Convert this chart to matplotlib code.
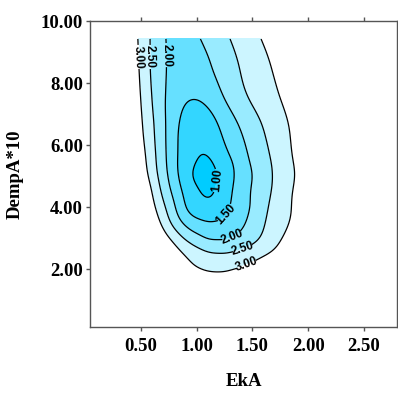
import numpy as np
import matplotlib
matplotlib.use("Agg")
import matplotlib.pyplot as plt
import matplotlib.tri as mtri

# Grid of EkA (x) and DempA*10 (y) values and the surface
eka = [0.3, 0.4, 0.5, 0.6, 0.7, 0.8, 0.9, 1.0, 1.1, 1.2, 1.3, 1.4, 1.5, 1.6, 1.7, 1.8, 1.9, 2.0, 2.1]
dempa = [1.5, 2.0, 2.5, 3.0, 3.5, 4.0, 4.5, 5.0, 5.5, 6.5, 7.5, 8.5, 9.42]
z_rows = [
    [5.2, 5.0, 4.8, 4.5, 4.2, 3.9, 3.65, 3.45, 3.35, 3.32, 3.35, 3.42, 3.55, 3.7, 3.88, 4.05, 4.25, 4.45, 4.65],
    [5.0, 4.8, 4.55, 4.25, 3.9, 3.55, 3.25, 3.04, 2.95, 2.93, 2.97, 3.05, 3.18, 3.35, 3.55, 3.75, 3.95, 4.15, 4.35],
    [4.9, 4.6, 4.3, 4.0, 3.6, 3.25, 2.95, 2.72, 2.57, 2.52, 2.55, 2.63, 2.76, 2.92, 3.1, 3.35, 3.6, 3.85, 4.05],
    [4.8, 4.4, 4.0, 3.67, 3.25, 2.83, 2.44, 2.17, 1.96, 1.93, 1.97, 2.15, 2.35, 2.58, 2.83, 3.08, 3.33, 3.58, 3.8],
    [4.7, 4.3, 3.9, 3.42, 2.86, 2.33, 1.88, 1.63, 1.52, 1.55, 1.67, 1.89, 2.17, 2.46, 2.70, 2.93, 3.16, 3.4, 3.63],
    [4.6, 4.2, 3.72, 3.17, 2.61, 2.06, 1.5, 1.24, 1.15, 1.24, 1.5, 1.78, 2.06, 2.38, 2.64, 2.88, 3.12, 3.36, 3.6],
    [4.5, 4.07, 3.58, 3.0, 2.39, 1.85, 1.38, 1.09, 0.9, 1.13, 1.44, 1.75, 2.05, 2.32, 2.58, 2.84, 3.11, 3.37, 3.63],
    [4.42, 3.94, 3.40, 2.80, 2.24, 1.68, 1.23, 0.88, 0.81, 1.03, 1.37, 1.69, 2.0, 2.28, 2.55, 2.8, 3.05, 3.3, 3.55],
    [4.34, 3.83, 3.28, 2.70, 2.17, 1.62, 1.27, 1.0, 0.93, 1.2, 1.45, 1.77, 2.08, 2.33, 2.59, 2.84, 3.09, 3.34, 3.59],
    [4.15, 3.63, 3.1, 2.6, 2.12, 1.64, 1.32, 1.2, 1.25, 1.47, 1.75, 2.02, 2.26, 2.5, 2.72, 2.93, 3.15, 3.37, 3.59],
    [4.02, 3.51, 3.0, 2.5, 2.08, 1.73, 1.54, 1.51, 1.62, 1.86, 2.14, 2.36, 2.57, 2.74, 2.91, 3.09, 3.26, 3.43, 3.6],
    [3.95, 3.44, 2.92, 2.43, 2.07, 1.85, 1.67, 1.72, 1.92, 2.13, 2.34, 2.53, 2.71, 2.88, 3.05, 3.22, 3.4, 3.57, 3.74],
    [3.84, 3.36, 2.88, 2.43, 2.07, 1.83, 1.76, 1.93, 2.12, 2.31, 2.5, 2.68, 2.86, 3.04, 3.22, 3.4, 3.58, 3.76, 3.94],
]
levels = [0.0, 1.0, 1.5, 2.0, 2.5, 3.0, 10.0]
band_colors = ["#00ccff", "#33d6ff", "#66e0ff", "#99ebff", "#ccf5ff", "#ffffff"]
x_ticks = [0.5, 1.0, 1.5, 2.0, 2.5]
y_ticks = [2.0, 4.0, 6.0, 8.0, 10.0]

X, Y = np.meshgrid(eka, dempa)
Z = np.array(z_rows)
tri = mtri.Triangulation(X.ravel(), Y.ravel())
interp = mtri.CubicTriInterpolator(tri, Z.ravel(), kind="min_E")
nx, ny = 400, 400
xf = np.linspace(eka[0], eka[-1], nx)
yf = np.linspace(dempa[0], dempa[-1], ny)
XF, YF = np.meshgrid(xf, yf)
ZF = np.asarray(interp(XF, YF))


def gauss_smooth(a, sig, axis):
    r = int(3 * sig)
    k = np.exp(-0.5 * (np.arange(-r, r + 1) / sig) ** 2)
    k /= k.sum()
    pad = [(0, 0), (0, 0)]
    pad[axis] = (r, r)
    ap = np.pad(a, pad, mode="reflect", reflect_type="odd")
    return np.apply_along_axis(lambda v: np.convolve(v, k, mode="valid"), axis, ap)


ZF = gauss_smooth(ZF, 0.03 / (xf[1] - xf[0]), axis=1)
ZF = gauss_smooth(ZF, 0.16 / (yf[1] - yf[0]), axis=0)

fig = plt.figure(figsize=(3.98, 3.94), dpi=100)
ax = fig.add_axes([0.226, 0.170, 0.7715, 0.7767])

ax.contourf(XF, YF, ZF, levels=levels, colors=band_colors)
cs = ax.contour(XF, YF, ZF, levels=levels[1:-1], colors="black", linewidths=0.9)

label_pos = [(0.467, 8.84), (0.58, 8.84), (0.72, 8.9), (1.15, 4.87),
             (1.27, 3.74), (1.32, 3.0), (1.42, 2.55), (1.45, 2.13)]
lbls = ax.clabel(cs, fmt="%.2f", manual=label_pos, inline=True, fontsize=8.5, inline_spacing=2)
for t in lbls:
    t.set_fontfamily("Liberation Sans")
    t.set_fontweight("bold")

ax.set_xlim(0.046, 2.795)
ax.set_ylim(0.13, 10.0)
ax.set_xticks(x_ticks)
ax.set_yticks(y_ticks)
ax.set_xticklabels([f"{v:.2f}" for v in x_ticks])
ax.set_yticklabels([f"{v:.2f}" for v in y_ticks])

serif = {"family": "Liberation Serif", "weight": "bold", "size": 13.5}
for lab in ax.get_xticklabels() + ax.get_yticklabels():
    lab.set_fontfamily("Liberation Serif")
    lab.set_fontweight("bold")
    lab.set_fontsize(13.5)
ax.tick_params(axis="both", direction="out", length=3, width=1, color="#555555",
               top=True, right=True)
ax.tick_params(axis="x", pad=5)
ax.tick_params(axis="y", pad=2)
for s in ax.spines.values():
    s.set_color("#555555")
    s.set_linewidth(1.0)

ax.set_xlabel("EkA", fontdict=serif, labelpad=13)
ax.set_ylabel("DempA*10", fontdict=serif, labelpad=12)

fig.savefig("out.png", dpi=100)
